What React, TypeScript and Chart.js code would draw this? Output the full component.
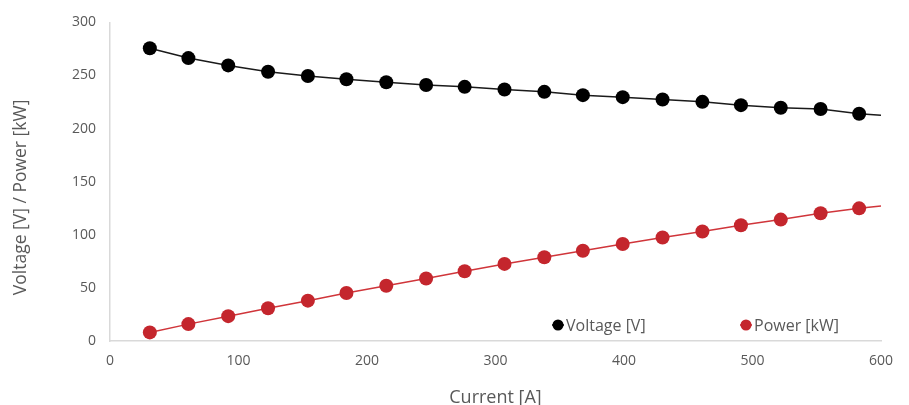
import React, { useEffect, useRef } from 'react';
import { Chart, registerables } from 'chart.js';

Chart.register(...registerables);

// Current [A]
const currentA = [31, 61, 92, 123, 154, 184, 215, 246, 276, 307, 338, 368, 399, 430, 461, 491, 522, 553, 583];
// Voltage [V]
const voltageV = [275.7, 266.4, 259.5, 253.6, 249.5, 246.4, 243.6, 241.1, 239.3, 236.8, 234.6, 231.5, 229.6, 227.4, 225.2, 222.1, 219.6, 218.4, 214.0];
// Power [kW]
const powerKW = [8.1, 15.9, 23.4, 30.8, 38.0, 45.2, 52.0, 58.9, 65.7, 72.6, 78.8, 85.0, 91.3, 97.5, 103.1, 109.0, 114.3, 120.3, 124.9];
// trendline end values read at the right edge
const trendEndCurrent = 600;
const voltageTrendEnd = 212.6;
const powerTrendEnd = 127.1;

const legendLabels = ['Voltage [V]', 'Power [kW]'];
const xTitle = 'Current [A]';
const yTitle = 'Voltage [V] / Power [kW]';

const BLACK = '#000000';
const RED = '#C4262D';
const TEXT = '#595959';
const AXIS = '#D9D9D9';
const FONT = "'Open Sans', 'Noto Sans', sans-serif";

const overlayPlugin = {
  id: 'overlayText',
  afterDraw(chart: any) {
    const { ctx, chartArea } = chart;
    ctx.save();
    // y axis title
    ctx.font = `17.5px ${FONT}`;
    ctx.fillStyle = TEXT;
    ctx.textAlign = 'center';
    ctx.textBaseline = 'middle';
    ctx.translate(20.8, chartArea.top + 175);
    ctx.rotate(-Math.PI / 2);
    ctx.fillText(yTitle, 0, 0);
    ctx.restore();

    // floating legend
    const items = [
      { label: legendLabels[0], color: BLACK, dx: 448 },
      { label: legendLabels[1], color: RED, dx: 636 },
    ];
    const y = chartArea.bottom - 16;
    ctx.save();
    ctx.font = `16px ${FONT}`;
    ctx.textBaseline = 'middle';
    ctx.textAlign = 'left';
    for (const it of items) {
      const x = chartArea.left + it.dx;
      ctx.strokeStyle = it.color;
      ctx.lineWidth = 1.5;
      ctx.beginPath();
      ctx.moveTo(x - 6, y);
      ctx.lineTo(x + 6, y);
      ctx.stroke();
      ctx.fillStyle = it.color;
      ctx.beginPath();
      ctx.arc(x, y, 5.5, 0, Math.PI * 2);
      ctx.fill();
      ctx.fillStyle = TEXT;
      ctx.fillText(it.label, x + 8, y + 1);
    }
    ctx.restore();
  },
};

export default function App() {
  const ref = useRef<HTMLCanvasElement | null>(null);

  useEffect(() => {
    if (!ref.current) return;
    const vPts = currentA.map((x, i) => ({ x, y: voltageV[i] }));
    const pPts = currentA.map((x, i) => ({ x, y: powerKW[i] }));
    const vTrend = [...vPts, { x: trendEndCurrent, y: voltageTrendEnd }];
    const pTrend = [...pPts, { x: trendEndCurrent, y: powerTrendEnd }];

    const chart = new Chart(ref.current, {
      type: 'scatter',
      data: {
        datasets: [
          {
            label: legendLabels[0],
            data: vPts,
            showLine: false,
            pointRadius: 7,
            pointHoverRadius: 7,
            pointBackgroundColor: BLACK,
            pointBorderColor: BLACK,
            pointBorderWidth: 0,
            order: 0,
          },
          {
            label: legendLabels[1],
            data: pPts,
            showLine: false,
            pointRadius: 7,
            pointHoverRadius: 7,
            pointBackgroundColor: RED,
            pointBorderColor: RED,
            pointBorderWidth: 0,
            order: 0,
          },
          {
            label: 'Voltage trend',
            data: vTrend,
            showLine: true,
            pointRadius: 0,
            borderColor: '#1a1a1a',
            borderWidth: 1.5,
            order: 1,
          },
          {
            label: 'Power trend',
            data: pTrend,
            showLine: true,
            pointRadius: 0,
            borderColor: '#D0353A',
            borderWidth: 1.5,
            order: 1,
          },
        ],
      },
      options: {
        responsive: false,
        animation: false,
        devicePixelRatio: 1,
        layout: { padding: { top: 20, right: 28, left: 0, bottom: 0 } },
        plugins: {
          legend: { display: false },
          tooltip: { enabled: false },
        },
        scales: {
          x: {
            type: 'linear',
            min: 0,
            max: 600,
            ticks: { stepSize: 100, color: TEXT, font: { family: FONT, size: 14 }, padding: 12 },
            grid: { display: false, drawTicks: false },
            border: { display: true, color: AXIS, width: 1.5 },
            title: {
              display: true,
              text: xTitle,
              color: TEXT,
              font: { family: FONT, size: 18 },
              padding: { top: 0, bottom: -4 },
            },
            afterFit(scale: any) {
              scale.height = 64;
            },
          },
          y: {
            type: 'linear',
            min: 0,
            max: 300,
            ticks: { stepSize: 50, color: TEXT, font: { family: FONT, size: 14 }, padding: 14 },
            grid: { display: false, drawTicks: false },
            border: { display: true, color: AXIS, width: 1.5 },
            title: { display: false },
            afterFit(scale: any) {
              scale.width = 110;
            },
          },
        },
      },
      plugins: [overlayPlugin],
    });
    return () => chart.destroy();
  }, []);

  return (
    <div style={{ position: 'fixed', left: 0, top: 0, width: 909, height: 405, background: '#fff' }}>
      <canvas ref={ref} width={909} height={405} style={{ width: 909, height: 405, display: 'block' }} />
    </div>
  );
}
